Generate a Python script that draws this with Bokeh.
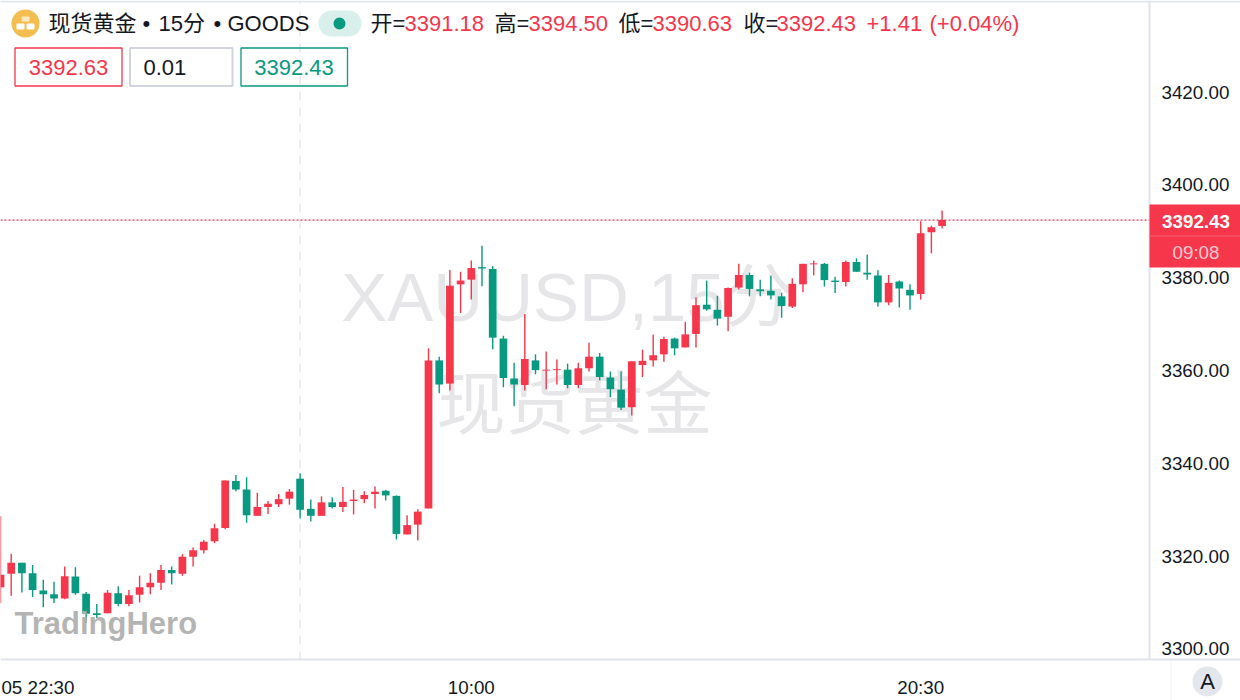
from bokeh.plotting import figure
from bokeh.models import ColumnDataSource, FixedTicker, Label, BoxAnnotation, NumeralTickFormatter
from bokeh.embed import file_html
from bokeh.resources import INLINE

opens = [3313.3,3316.2,3318.6,3316.3,3312.6,3311.8,3310.9,3315.6,3311.9,3307.7,
         3307.7,3312.0,3309.7,3311.7,3313.3,3314.3,3317.0,3316.2,3319.9,3321.3,
         3323.2,3326.1,3336.2,3334.4,3328.7,3330.6,3331.2,3332.4,3336.7,3330.2,
         3328.7,3331.6,3330.6,3331.9,3332.3,3333.4,3334.1,3333.0,3324.7,3326.8,
         3330.3,3362.2,3357.2,3378.6,3379.6,3382.3,3381.9,3366.9,3358.3,3356.9,
         3362.2,3360.0,3360.1,3360.2,3356.9,3360.5,3363.0,3358.5,3355.9,3352.1,
         3361.2,3362.2,3363.5,3366.9,3365.0,3367.9,3374.2,3373.1,3371.6,3377.9,
         3380.6,3377.5,3377.2,3376.0,3373.8,3378.6,3382.9,3383.0,3379.4,3379.1,
         3383.4,3381.1,3380.5,3374.7,3379.2,3377.4,3376.5,3389.8,3391.18]
highs = [3328.6,3320.5,3318.6,3318.1,3314.9,3314.5,3317.8,3317.6,3312.3,3309.7,
         3312.7,3313.5,3312.7,3315.8,3316.3,3318.1,3317.8,3320.4,3321.9,3323.5,
         3327.0,3336.3,3337.5,3337.0,3333.7,3331.9,3333.4,3334.5,3337.9,3332.2,
         3332.9,3332.7,3334.9,3334.3,3334.0,3335.0,3334.3,3333.1,3328.8,3330.1,
         3364.8,3363.0,3381.7,3381.3,3383.7,3386.9,3382.5,3367.5,3361.7,3372.2,
         3363.5,3364.1,3362.4,3361.5,3361.7,3366.0,3363.8,3359.8,3359.8,3362.0,
         3364.5,3367.8,3367.3,3367.1,3370.5,3375.8,3379.4,3376.1,3377.9,3383.0,
         3381.1,3379.6,3380.5,3376.8,3379.9,3383.0,3383.7,3383.2,3380.2,3383.7,
         3384.2,3385.0,3381.6,3380.6,3379.4,3378.6,3392.2,3391.2,3394.50]
lows = [3309.9,3311.5,3312.2,3311.2,3309.0,3309.9,3310.7,3311.7,3305.6,3306.7,
        3307.7,3309.2,3309.2,3310.0,3311.8,3312.7,3313.9,3315.8,3317.8,3320.6,
        3322.8,3325.8,3334.0,3327.2,3328.7,3329.1,3330.6,3331.1,3328.1,3327.5,
        3328.7,3330.3,3329.5,3329.0,3331.4,3330.3,3332.0,3323.6,3324.7,3323.4,
        3330.3,3355.1,3355.7,3372.4,3375.3,3378.2,3364.6,3356.4,3352.3,3355.7,
        3359.2,3356.0,3357.0,3356.2,3356.2,3359.8,3357.9,3354.3,3351.5,3350.3,
        3358.6,3360.9,3361.9,3363.3,3365.0,3365.0,3372.9,3369.7,3368.5,3377.5,
        3376.0,3376.0,3375.3,3371.4,3373.5,3376.9,3380.5,3378.1,3376.7,3378.1,
        3381.3,3379.6,3373.8,3374.1,3373.6,3373.1,3375.3,3385.3,3390.63]
closes = [3316.0,3318.6,3316.3,3312.7,3311.8,3310.9,3315.7,3312.0,3307.6,3307.3,
          3312.1,3309.7,3311.6,3313.3,3314.3,3317.0,3316.3,3319.9,3321.3,3323.1,
          3326.0,3336.3,3334.4,3328.8,3330.6,3331.3,3332.3,3333.9,3330.0,3328.7,
          3331.6,3330.6,3331.7,3332.2,3333.2,3333.9,3333.1,3324.8,3326.7,3329.6,
          3362.2,3357.0,3378.3,3379.4,3382.1,3382.0,3367.1,3358.4,3357.0,3362.5,
          3360.1,3360.2,3360.3,3356.9,3360.5,3363.0,3358.6,3356.0,3352.0,3362.0,
          3362.1,3363.3,3366.8,3364.8,3367.8,3374.1,3373.2,3371.2,3377.8,3380.6,
          3377.6,3377.1,3376.2,3373.9,3378.7,3383.0,3383.1,3379.5,3379.1,3383.4,
          3381.3,3380.7,3374.7,3378.9,3377.7,3376.2,3389.6,3390.9,3392.43]
price_ticks = [3300, 3320, 3340, 3360, 3380, 3400, 3420]
time_ticks = [3.5, 44, 86]
time_labels = ["05 22:30", "10:00", "20:30"]
cursor_index = 28
last_price = 3392.43

RED, GREEN, INK = "#F5364B", "#089981", "#131722"
LINE = "#E0E3EB"
FONT = "Liberation Sans, Noto Sans CJK SC"

# the plotting area of the chart ends where the two axes sit
x_end, y_floor, y_ceil = 107.38, 3297.63, 3439.76

n = len(closes)
source = ColumnDataSource(dict(
    x=list(range(n)), o=opens, h=highs, l=lows, c=closes,
    top=[max(a, b) for a, b in zip(opens, closes)],
    bottom=[min(a, b) for a, b in zip(opens, closes)],
    color=[RED if b >= a else GREEN for a, b in zip(opens, closes)],
))

p = figure(width=1240, height=700, x_range=(0, 115.888), y_range=(3288.90, y_ceil),
           output_backend="svg", toolbar_location=None, y_axis_location="right",
           min_border_left=0, min_border_top=0, min_border_right=0, min_border_bottom=0)
p.outline_line_color = None
p.grid.visible = False
p.background_fill_color = "white"
p.border_fill_color = "white"

ya, xa = p.yaxis[0], p.xaxis[0]
ya.fixed_location = x_end
xa.fixed_location = y_floor
ya.bounds = (y_floor, y_ceil)
ya.ticker = FixedTicker(ticks=price_ticks)
ya.formatter = NumeralTickFormatter(format="0.00")
xa.ticker = FixedTicker(ticks=time_ticks)
xa.major_label_overrides = dict(zip(time_ticks, time_labels))
for ax, standoff in ((ya, 6), (xa, 11)):
    ax.major_tick_line_color = None
    ax.minor_tick_line_color = None
    ax.axis_line_color = LINE
    ax.axis_line_width = 2
    ax.major_label_text_font = FONT
    ax.major_label_text_font_size = "18.8px"
    ax.major_label_text_color = INK
    ax.major_label_standoff = standoff


def text(t, x, y, color=INK, size=22, align="left", style="normal", level="annotation", alpha=1.0, **kw):
    p.add_layout(Label(x=x, y=y, x_units="canvas", y_units="canvas", text=t, text_color=color,
                       text_font=FONT, text_font_size=f"{size}px", text_align=align,
                       text_baseline="middle", text_font_style=style, level=level, text_alpha=alpha, **kw))


def box(l, r, t, b, fill=None, line=None, lw=1.3, radius=0, level="annotation"):
    p.add_layout(BoxAnnotation(left=l, right=r, top=t, bottom=b, left_units="canvas", right_units="canvas",
                               top_units="canvas", bottom_units="canvas", fill_color=fill, fill_alpha=1 if fill else 0,
                               line_color=line, line_width=lw, line_alpha=1 if line else 0,
                               border_radius=radius, level=level))


# watermark below the candles
text("XAUUSD,15分", 567, 297, "#E6E6E9", 69, "center", level="underlay")
text("现货黄金", 574, 405, "#E6E6E9", 69, "center", level="underlay")

p.segment([cursor_index], [y_floor], [cursor_index], [y_ceil], line_color=LINE, line_dash="8 8",
          line_width=1.3, level="underlay")

p.segment("x", "h", "x", "l", source=source, color="color", line_width=1.4)
p.vbar("x", 0.72, "top", "bottom", source=source, fill_color="color", line_color=None)

p.segment([0], [last_price], [x_end], [last_price], line_color=RED, line_dash="2 2", line_width=1.3)

# top band
box(0, 1240, 0, 2, fill="#E4E6EE")

# header
box(11, 39, 9, 37, fill="#F3BD50", radius=14)
box(21, 29, 16, 21, fill="#FBE9C0", radius=1)
box(16, 24, 23, 29, fill="#FFFFFF", radius=1)
box(26, 34, 23, 29, fill="#FFFFFF", radius=1)
for t, x in [("现货黄金", 48), ("•", 142), ("15分", 158), ("•", 213), ("GOODS", 227)]:
    text(t, x, 22.5)
box(318, 361, 10, 36, fill="#D9EFEB", radius=13)
box(333, 345, 17, 29, fill=GREEN, radius=6)
for t, x, c in [("开=", 370, INK), ("3391.18", 404, RED), ("高=", 494, INK), ("3394.50", 528, RED),
                ("低=", 618, INK), ("3390.63", 652, RED), ("收=", 743, INK), ("3392.43", 776, RED),
                ("+1.41", 866, RED), ("(+0.04%)", 929, RED)]:
    text(t, x, 22.5, c)

box(14.5, 121.5, 47.5, 85.5, line=RED)
text("3392.63", 68, 66.5, RED, 22, "center")
box(129.5, 232, 47.5, 85.5, line="#D1D4E0", lw=2)
text("0.01", 143, 66.5, INK, 22)
box(240.5, 347, 47.5, 85.5, line=GREEN)
text("3392.43", 293.5, 66.5, GREEN, 22, "center")

# last price tag
box(1149, 1240, 204, 267, fill=RED)
box(1149, 1240, 235, 236, fill="#F8606F")
text("3392.43", 1195.5, 220.5, "#FFFFFF", 18.8, "center", style="bold")
text("09:08", 1195.5, 251.5, "#FFC9CF", 18.8, "center")

# A button
box(1170, 1171, 661, 700, fill="#F4F4F6")
box(1192, 1222, 666, 696, fill="#E4E6EE", radius=15)
text("A", 1207, 681, INK, 22, "center")

# logo
text("TradingHero", 14, 623, "#B0B0B0", 31, style="bold", alpha=0.95)

html = file_html(p, INLINE).replace("<head>", "<head><style>html,body{margin:0;padding:0;overflow:hidden}</style>", 1)
open("out.html", "w").write(html)
